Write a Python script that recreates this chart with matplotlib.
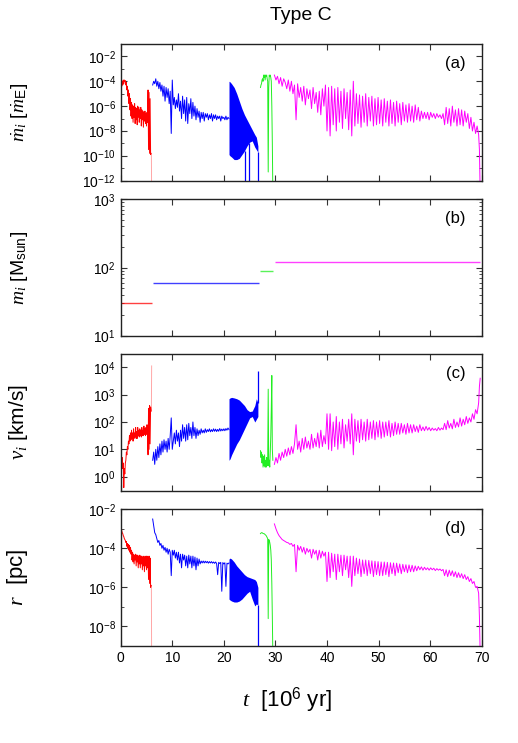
import numpy as np
import matplotlib
matplotlib.use('Agg')
import matplotlib.pyplot as plt
from matplotlib.ticker import FixedLocator, FuncFormatter, NullFormatter

plt.rcParams['font.family'] = ['Liberation Sans', 'DejaVu Sans']
plt.rcParams['mathtext.fontset'] = 'custom'
plt.rcParams['mathtext.rm'] = 'Liberation Sans'
plt.rcParams['mathtext.it'] = 'Liberation Serif:italic'
plt.rcParams['mathtext.bf'] = 'Liberation Sans:bold'

# ---- data (values are log10, time in 10^6 yr) ----
# red: first BH
RED_T = [0.0, 0.1, 0.2, 0.3, 0.4, 0.5, 0.6, 0.7, 0.8, 0.9,
         1.0, 1.1, 1.2, 1.3, 1.4, 1.5, 1.6, 1.7, 1.8, 1.9,
         2.0, 2.1, 2.2, 2.3, 2.4, 2.5, 2.6, 2.7, 2.8, 2.9,
         3.0, 3.1, 3.2, 3.3, 3.4, 3.5, 3.6, 3.7, 3.8, 3.9,
         4.0, 4.1, 4.2, 4.3, 4.4, 4.5, 4.6, 4.7, 4.8, 4.9,
         5.0, 5.1, 5.2, 5.3, 5.4, 5.5, 5.6, 5.7, 5.8, 5.9]
RED_MDOT = [-4.4, -4.1, -4.4, -4.0, -4.3, -3.9, -4.2, -3.9, -4.0, -3.95,
            -4.3, -4.1, -4.7, -4.4, -5.2, -4.7, -5.8, -5.0, -6.3, -5.4,
            -6.8, -5.7, -7.0, -5.9, -7.3, -6.0, -6.9, -5.8, -7.4, -6.1,
            -7.1, -6.2, -7.5, -6.0, -6.9, -6.1, -7.3, -6.3, -7.0, -6.1,
            -7.6, -6.3, -7.1, -6.4, -7.7, -6.5, -7.2, -6.4, -7.4, -6.6,
            -7.6, -6.5, -7.3, -4.7, -9.5, -4.9, -9.8, -5.4, -9.9, -9.8]
RED_V = [0.6, 0.75, 0.4, 0.7, 0.3, 0.5, -0.4, 0.3, 0.1, 0.5,
         0.6, 0.9, 0.8, 1.1, 1.0, 1.3, 1.2, 1.5, 1.3, 1.6,
         1.35, 1.7, 1.4, 1.6, 1.3, 1.75, 1.4, 1.6, 1.45, 1.8,
         1.4, 1.65, 1.4, 1.8, 1.5, 1.7, 1.45, 1.75, 1.5, 1.7,
         1.45, 1.8, 1.5, 1.7, 1.5, 1.85, 1.55, 1.75, 1.5, 1.8,
         1.55, 1.9, 1.6, 0.8, 2.5, 1.0, 2.6, 1.2, 2.55, 2.4]
RED_R = [-2.0, -2.9, -3.1, -3.2, -3.25, -3.35, -3.4, -3.5, -3.55, -3.6,
         -3.7, -3.65, -3.9, -3.75, -4.0, -3.8, -4.1, -3.85, -4.2, -3.95,
         -4.3, -4.1, -4.6, -4.2, -4.7, -4.3, -4.8, -4.35, -4.6, -4.3,
         -4.9, -4.35, -4.7, -4.35, -5.0, -4.4, -4.8, -4.35, -5.0, -4.4,
         -4.8, -4.4, -5.1, -4.45, -4.9, -4.4, -5.2, -4.45, -4.9, -4.4,
         -5.1, -4.4, -5.0, -4.45, -5.6, -4.4, -5.8, -4.5, -6.0, -5.9]
# faint end of the red track
RED_END_T = [5.95, 6.0]
RED_END_MDOT = [-9.9, -13.0]
RED_END_V = [2.4, 4.05]
RED_END_R = [-5.9, -10.0]

# blue: second BH, sparse part
BLUE_T = [6.2, 6.4, 6.6, 6.8, 7.0, 7.2, 7.4, 7.6, 7.8, 8.0,
          8.2, 8.4, 8.6, 8.8, 9.0, 9.2, 9.4, 9.6, 9.8, 10.0,
          10.2, 10.4, 10.6, 10.8, 11.0, 11.2, 11.4, 11.6, 11.8, 12.0,
          12.2, 12.4, 12.6, 12.8, 13.0, 13.2, 13.4, 13.6, 13.8, 14.0,
          14.2, 14.4, 14.6, 14.8, 15.0, 15.2, 15.4, 15.6, 15.8, 16.0,
          16.2, 16.4, 16.6, 16.8, 17.0, 17.2, 17.4, 17.6, 17.8, 18.0,
          18.2, 18.4, 18.6, 18.8, 19.0, 19.2, 19.4, 19.6, 19.8, 20.0,
          20.2, 20.4, 20.6, 20.8, 21.0]
BLUE_MDOT = [-4.3, -4.0, -4.2, -3.8, -4.4, -4.0, -4.6, -4.1, -4.8, -4.3,
             -5.2, -4.4, -5.6, -4.5, -5.3, -4.6, -5.8, -4.8, -8.2, -3.9,
             -5.9, -5.3, -6.2, -5.5, -6.1, -5.0, -6.4, -5.6, -7.0, -5.2,
             -6.6, -5.5, -7.2, -5.3, -7.4, -5.8, -6.6, -5.4, -7.0, -5.7,
             -6.8, -6.0, -7.1, -6.2, -6.9, -6.4, -7.3, -6.5, -7.0, -6.5,
             -7.2, -6.6, -6.9, -6.6, -7.1, -6.7, -7.0, -6.6, -7.2, -6.7,
             -7.0, -6.7, -7.1, -6.8, -7.0, -6.8, -7.2, -6.8, -7.0, -6.9,
             -7.1, -6.8, -7.1, -6.9, -7.0]
BLUE_V = [0.6, 0.9, 0.45, 1.0, 0.6, 1.1, 0.7, 1.2, 0.8, 1.3,
          0.9, 1.35, 1.0, 1.3, 0.9, 1.4, 1.0, 1.5, 2.15, 1.0,
          1.3, 1.6, 1.2, 1.7, 1.3, 1.6, 1.1, 1.7, 1.3, 1.9,
          1.4, 1.8, 1.3, 1.9, 1.35, 1.95, 1.5, 1.8, 1.4, 2.0,
          1.5, 1.8, 1.4, 1.75, 1.5, 1.7, 1.55, 1.75, 1.6, 1.7,
          1.6, 1.75, 1.62, 1.72, 1.65, 1.75, 1.64, 1.72, 1.65, 1.75,
          1.66, 1.74, 1.65, 1.73, 1.66, 1.76, 1.67, 1.74, 1.68, 1.75,
          1.68, 1.76, 1.7, 1.78, 1.72]
BLUE_R = [-2.5, -2.85, -3.2, -3.3, -3.5, -3.7, -3.6, -3.85, -3.75, -4.0,
          -3.85, -4.1, -3.95, -4.2, -4.0, -4.3, -4.05, -4.2, -5.4, -4.1,
          -4.35, -4.1, -4.5, -4.2, -4.6, -4.2, -4.75, -4.3, -5.0, -4.3,
          -4.6, -4.35, -4.9, -4.4, -5.0, -4.35, -4.8, -4.4, -5.0, -4.4,
          -4.9, -4.45, -5.1, -4.5, -4.9, -4.55, -4.8, -4.65, -4.75, -4.65,
          -4.75, -4.66, -4.74, -4.67, -4.76, -4.68, -4.75, -4.68, -4.76, -4.7,
          -4.77, -4.7, -4.78, -5.35, -4.72, -4.78, -4.72, -6.2, -4.73, -4.8,
          -4.74, -5.95, -4.76, -4.8, -4.75]
# blue: dense oscillating part (envelope)
BAND_T = [21.0, 21.2, 21.5, 22.0, 22.5, 23.0, 23.5, 24.0, 24.5, 25.0, 25.5, 26.0, 26.3, 26.6]
BAND_MDOT_TOP = [-4.0, -4.05, -4.2, -4.5, -5.0, -5.6, -6.2, -6.7, -7.1, -7.5, -7.9, -8.3, -8.5, -9.2]
BAND_MDOT_BOT = [-9.9, -10.0, -10.1, -10.3, -10.3, -10.2, -9.9, -9.6, -9.2, -8.9, -8.8, -9.3, -9.5, -9.7]
BAND_V_TOP = [2.85, 2.88, 2.9, 2.88, 2.85, 2.8, 2.7, 2.6, 2.45, 2.38, 2.4, 2.6, 2.85, 2.7]
BAND_V_BOT = [0.6, 0.65, 0.8, 1.0, 1.2, 1.35, 1.55, 1.75, 1.95, 2.15, 2.2, 2.0, 2.1, 2.2]
BAND_R_TOP = [-4.55, -4.5, -4.55, -4.7, -4.9, -5.05, -5.2, -5.35, -5.45, -5.5, -5.55, -5.6, -5.7, -6.0]
BAND_R_BOT = [-6.6, -6.65, -6.7, -6.75, -6.75, -6.7, -6.6, -6.45, -6.3, -6.2, -6.6, -6.95, -6.85, -6.9]
# blue: isolated drops / spikes
BLUE_DROP_T_A = [24.1, 24.8, 26.7]
BLUE_DROP_FROM_A = [-9.6, -9.0, -9.7]
BLUE_SPIKE_T_C = [26.7]
BLUE_SPIKE_V = [3.85]
BLUE_DROP_T_D = [26.7]
BLUE_DROP_FROM_D = [-6.9]

# green: third BH
GREEN_T = [27.1, 27.2, 27.3, 27.4, 27.5, 27.6, 27.7, 27.8, 27.9, 28.0,
           28.1, 28.2, 28.3, 28.4, 28.5, 28.6, 28.7, 28.8, 28.9, 29.0,
           29.1, 29.2, 29.3, 29.4, 29.5]
GREEN_MDOT = [-4.5, -4.3, -4.2, -3.9, -3.8, -4.0, -3.5, -3.7, -3.5, -3.9,
              -3.5, -3.6, -3.5, -3.8, -4.0, -11.3, -4.5, -3.5, -3.6, -3.5,
              -3.7, -4.0, -6.0, -9.0, -13.0]
GREEN_V = [0.95, 0.7, 0.9, 0.5, 0.8, 0.35, 0.75, 0.4, 0.8, 0.35,
           0.6, 0.35, 0.7, 0.4, 0.6, 3.2, 0.4, 0.6, 0.35, 0.9,
           1.5, 2.5, 3.7, 1.0, 0.6]
GREEN_R = [-3.25, -3.22, -3.2, -3.2, -3.22, -3.24, -3.25, -3.25, -3.27, -3.3,
           -3.32, -3.35, -3.4, -3.45, -3.5, -7.6, -3.55, -3.6, -3.7, -3.85,
           -4.1, -4.6, -5.8, -7.5, -9.5]

# magenta: fourth BH
MAG_T = [29.8, 30.1, 30.4, 30.7, 31.0, 31.3, 31.6, 31.9, 32.2, 32.5,
         32.8, 33.1, 33.4, 33.7, 34.0, 34.3, 34.6, 34.9, 35.2, 35.5,
         35.8, 36.1, 36.4, 36.7, 37.0, 37.3, 37.6, 37.9, 38.2, 38.5,
         38.8, 39.1, 39.4, 39.7, 40.0, 40.3, 40.6, 40.9, 41.2, 41.5,
         41.8, 42.1, 42.4, 42.7, 43.0, 43.3, 43.6, 43.9, 44.2, 44.5,
         44.8, 45.1, 45.4, 45.7, 46.0, 46.3, 46.6, 46.9, 47.2, 47.5,
         47.8, 48.1, 48.4, 48.7, 49.0, 49.3, 49.6, 49.9, 50.2, 50.5,
         50.8, 51.1, 51.4, 51.7, 52.0, 52.3, 52.6, 52.9, 53.2, 53.5,
         53.8, 54.1, 54.4, 54.7, 55.0, 55.3, 55.6, 55.9, 56.2, 56.5,
         56.8, 57.1, 57.4, 57.7, 58.0, 58.3, 58.6, 58.9, 59.2, 59.5,
         59.8, 60.1, 60.4, 60.7, 61.0, 61.3, 61.6, 61.9, 62.2, 62.5,
         62.8, 63.1, 63.4, 63.7, 64.0, 64.3, 64.6, 64.9, 65.2, 65.5,
         65.8, 66.1, 66.4, 66.7, 67.0, 67.3, 67.6, 67.9, 68.2, 68.5,
         68.8, 69.1, 69.4, 69.55, 69.7]
MAG_MDOT = [-3.5, -3.9, -3.6, -4.2, -3.7, -4.4, -3.8, -4.1, -4.6, -3.9,
            -4.8, -4.0, -5.0, -4.3, -7.1, -4.2, -5.3, -4.5, -5.6, -4.4,
            -5.9, -4.6, -5.4, -4.7, -6.2, -4.5, -5.8, -4.9, -6.5, -4.8,
            -6.7, -4.6, -6.0, -4.3, -8.0, -4.5, -8.4, -4.4, -7.5, -4.6,
            -8.0, -4.5, -7.3, -4.8, -7.8, -4.6, -7.0, -4.9, -7.9, -4.7,
            -8.4, -4.0, -7.6, -5.0, -7.4, -5.1, -7.7, -5.2, -7.3, -5.0,
            -7.6, -5.3, -7.2, -5.2, -7.6, -5.4, -7.5, -5.3, -7.4, -5.5,
            -7.6, -5.4, -7.3, -5.6, -7.6, -5.5, -7.4, -5.7, -7.6, -5.6,
            -7.3, -5.8, -7.5, -5.7, -7.2, -5.9, -7.3, -5.8, -7.2, -6.0,
            -7.3, -5.9, -7.1, -6.1, -7.2, -6.4, -7.0, -6.5, -7.0, -6.5,
            -7.1, -6.5, -6.9, -6.6, -7.0, -6.6, -6.9, -6.7, -7.0, -6.6,
            -7.5, -6.1, -7.4, -6.2, -7.6, -6.0, -7.3, -6.3, -7.6, -6.2,
            -7.5, -6.3, -7.6, -6.4, -7.3, -6.6, -7.8, -6.9, -8.0, -7.3,
            -8.2, -7.6, -8.3, -9.5, -13.0]
MAG_V = [0.45, 0.7, 0.5, 0.85, 0.6, 0.9, 0.7, 1.0, 0.75, 1.05,
         0.8, 1.1, 0.85, 1.2, 1.9, 1.0, 1.3, 0.9, 1.4, 1.0,
         1.45, 1.05, 1.3, 1.0, 1.55, 1.05, 1.4, 1.1, 1.6, 1.05,
         1.7, 1.1, 1.5, 1.2, 2.3, 1.0, 2.3, 0.95, 2.0, 1.1,
         2.2, 1.0, 2.0, 1.2, 2.1, 1.05, 1.9, 1.3, 2.1, 1.2,
         2.3, 0.8, 2.1, 1.3, 2.05, 1.25, 2.1, 1.35, 2.0, 1.3,
         2.1, 1.35, 2.0, 1.4, 2.05, 1.35, 2.0, 1.45, 2.05, 1.4,
         2.0, 1.45, 2.0, 1.5, 2.05, 1.45, 1.95, 1.5, 2.0, 1.55,
         1.95, 1.55, 1.95, 1.6, 1.9, 1.55, 1.95, 1.6, 1.9, 1.6,
         1.9, 1.65, 1.85, 1.62, 1.9, 1.68, 1.82, 1.68, 1.84, 1.7,
         1.8, 1.68, 1.78, 1.7, 1.76, 1.68, 1.8, 1.7, 1.78, 1.72,
         1.95, 1.72, 2.05, 1.78, 1.95, 1.75, 2.1, 1.8, 2.0, 1.82,
         2.15, 1.85, 2.1, 1.9, 2.2, 1.95, 2.15, 2.0, 2.3, 2.1,
         2.45, 2.3, 2.7, 3.3, 3.6]
MAG_R = [-2.75, -3.0, -3.2, -3.35, -3.45, -3.55, -3.6, -3.65, -3.7, -3.72,
         -3.8, -3.75, -3.9, -3.8, -5.2, -3.85, -4.1, -3.9, -4.2, -3.95,
         -4.3, -4.0, -4.2, -4.05, -4.5, -4.05, -4.3, -4.1, -4.6, -4.1,
         -4.5, -4.15, -4.4, -4.2, -5.7, -4.2, -5.5, -4.25, -5.2, -4.3,
         -5.6, -4.3, -5.2, -4.35, -5.4, -4.35, -5.1, -4.4, -5.5, -4.4,
         -5.95, -4.4, -5.4, -4.5, -5.3, -4.55, -5.45, -4.6, -5.3, -4.6,
         -5.4, -4.62, -5.3, -4.64, -5.45, -4.66, -5.35, -4.68, -5.4, -4.7,
         -5.4, -4.7, -5.35, -4.72, -5.45, -4.74, -5.3, -4.75, -5.4, -4.76,
         -5.25, -4.8, -5.3, -4.82, -5.2, -4.84, -5.25, -4.85, -5.2, -4.87,
         -5.2, -4.9, -5.15, -4.92, -5.1, -4.95, -5.12, -4.97, -5.1, -5.0,
         -5.12, -5.0, -5.1, -5.02, -5.14, -5.04, -5.12, -5.06, -5.15, -5.08,
         -5.4, -5.1, -5.45, -5.12, -5.4, -5.15, -5.45, -5.2, -5.5, -5.25,
         -5.5, -5.3, -5.55, -5.35, -5.6, -5.45, -5.7, -5.55, -5.8, -5.7,
         -6.0, -5.95, -6.3, -7.5, -9.5]

# panel (b): BH masses
MASS_T_START = [0.0, 6.2, 27.0, 30.0]
MASS_T_END = [6.0, 26.8, 29.6, 69.7]
MASS = [30, 60, 90, 120]

RED = '#ff0000'
BLUE = '#0000ff'
GREEN = '#22ee22'
MAGENTA = '#ff00ff'
LW = 0.7

def p(v):
    return 10.0 ** np.asarray(v, dtype=float)

def sci(v, pos):
    e = int(round(np.log10(v)))
    return r'$10^{%d}$' % e

fig = plt.figure(figsize=(5.18, 7.43), dpi=100)
L, W, H = 0.233, 0.697, 0.184
axa = fig.add_axes([L, 0.7568, W, H])
axb = fig.add_axes([L, 0.5478, W, H])
axc = fig.add_axes([L, 0.3392, W, H])
axd = fig.add_axes([L, 0.1306, W, H])

# (a) accretion rate
axa.plot(RED_T, p(RED_MDOT), color=RED, lw=LW)
axa.plot(RED_END_T, p(RED_END_MDOT), color=RED, lw=LW, alpha=0.35)
axa.plot(BLUE_T, p(BLUE_MDOT), color=BLUE, lw=LW)
axa.fill_between(BAND_T, p(BAND_MDOT_BOT), p(BAND_MDOT_TOP), color=BLUE, lw=0)
axa.vlines(BLUE_DROP_T_A, p(BLUE_DROP_FROM_A), 1e-13, colors=BLUE, lw=0.9)
axa.plot(GREEN_T, p(GREEN_MDOT), color=GREEN, lw=LW)
axa.plot(MAG_T, p(MAG_MDOT), color=MAGENTA, lw=LW)
axa.set_ylim(1e-12, 1e-1)

# (b) mass
for t0, t1, m, c in zip(MASS_T_START, MASS_T_END, MASS, [RED, BLUE, GREEN, MAGENTA]):
    axb.hlines(m, t0, t1, colors=c, lw=1.0, alpha=0.75)
axb.set_ylim(10, 1000)

# (c) velocity
axc.plot(RED_T, p(RED_V), color=RED, lw=LW)
axc.plot(RED_END_T, p(RED_END_V), color=RED, lw=LW, alpha=0.35)
axc.plot(BLUE_T, p(BLUE_V), color=BLUE, lw=LW)
axc.fill_between(BAND_T, p(BAND_V_BOT), p(BAND_V_TOP), color=BLUE, lw=0)
axc.vlines(BLUE_SPIKE_T_C, p(BAND_V_TOP[-1:]), p(BLUE_SPIKE_V), colors=BLUE, lw=0.9)
axc.plot(GREEN_T, p(GREEN_V), color=GREEN, lw=LW)
axc.plot(MAG_T, p(MAG_V), color=MAGENTA, lw=LW)
axc.set_ylim(0.3, 3e4)

# (d) separation
axd.plot(RED_T, p(RED_R), color=RED, lw=LW)
axd.plot(RED_END_T, p(RED_END_R), color=RED, lw=LW, alpha=0.35)
axd.plot(BLUE_T, p(BLUE_R), color=BLUE, lw=LW)
axd.fill_between(BAND_T, p(BAND_R_BOT), p(BAND_R_TOP), color=BLUE, lw=0)
axd.vlines(BLUE_DROP_T_D, p(BLUE_DROP_FROM_D), 1e-10, colors=BLUE, lw=0.9)
axd.plot(GREEN_T, p(GREEN_R), color=GREEN, lw=LW)
axd.plot(MAG_T, p(MAG_R), color=MAGENTA, lw=LW)
axd.set_ylim(1e-9, 1e-2)

major = {
    axa: [1e-12, 1e-10, 1e-8, 1e-6, 1e-4, 1e-2],
    axb: [1e1, 1e2, 1e3],
    axc: [1e0, 1e1, 1e2, 1e3, 1e4],
    axd: [1e-8, 1e-6, 1e-4, 1e-2],
}
minor = {
    axa: [1e-11, 1e-9, 1e-7, 1e-5, 1e-3],
    axb: [20, 30, 40, 50, 60, 70, 80, 90, 200, 300, 400, 500, 600, 700, 800, 900],
    axc: [],
    axd: [1e-9, 1e-7, 1e-5, 1e-3],
}
letters = {axa: '(a)', axb: '(b)', axc: '(c)', axd: '(d)'}
ylabels = {
    axa: (r'$\dot{m}_i$ [$\dot{m}_{\rm E}$]', 14),
    axb: (r'$m_i$ [M$_{\rm sun}$]', 14),
    axc: (r'$v_i$ [km/s]', 15),
    axd: (r'$r$  [pc]', 16),
}

for ax in [axa, axb, axc, axd]:
    ax.set_yscale('log')
    ax.set_xlim(0, 70)
    ax.set_xticks(range(0, 71, 10))
    ax.yaxis.set_major_locator(FixedLocator(major[ax]))
    ax.yaxis.set_minor_locator(FixedLocator(minor[ax]))
    ax.yaxis.set_major_formatter(FuncFormatter(sci))
    ax.yaxis.set_minor_formatter(NullFormatter())
    ax.tick_params(which='both', direction='in', top=True, right=True,
                   labelsize=10, colors='#333333', labelcolor='black')
    ax.tick_params(which='major', length=4)
    ax.tick_params(which='minor', length=2.5)
    for s in ax.spines.values():
        s.set_linewidth(1.0)
        s.set_color('#222222')
    ax.text(0.955, 0.86, letters[ax], transform=ax.transAxes, ha='right',
            va='center', fontsize=12)
    lab, fs = ylabels[ax]
    ax.set_ylabel(lab, fontsize=fs)
    ax.yaxis.set_label_coords(-0.25, 0.5)
    if ax is not axd:
        ax.tick_params(labelbottom=False)

axd.set_xlabel(r'$t$  [10$^6$ yr]', fontsize=16)
axd.xaxis.set_label_coords(0.462, -0.29)
fig.text(0.58, 0.979, 'Type C', ha='center', va='center', fontsize=14)

fig.savefig('out.png', dpi=100)
